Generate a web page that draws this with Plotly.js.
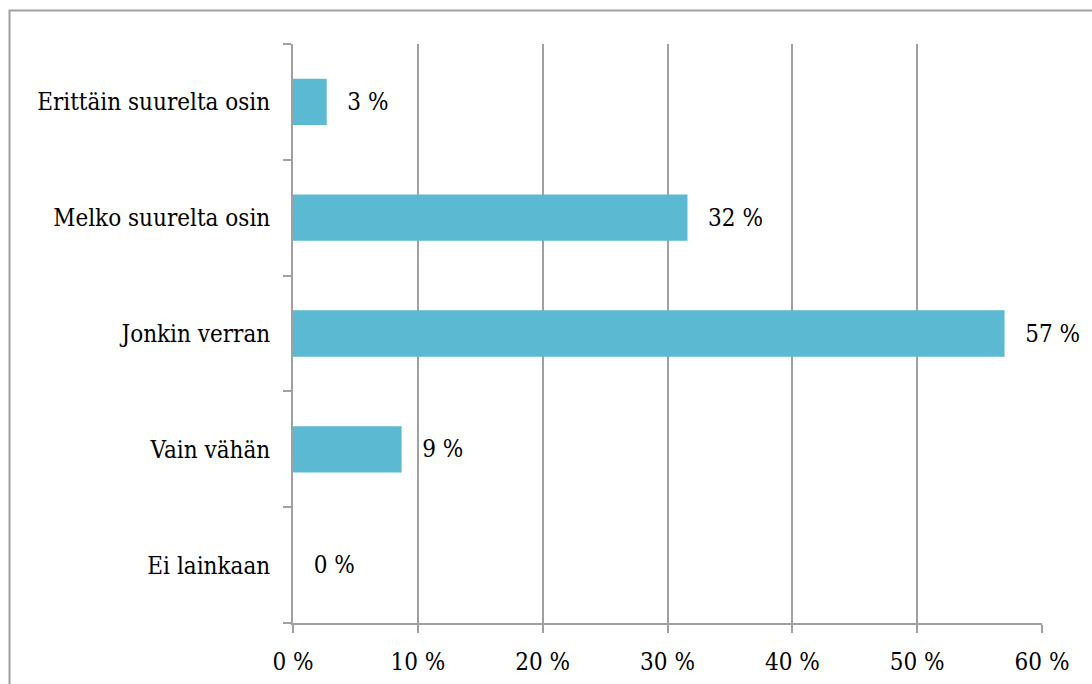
<!DOCTYPE html>
<html>
<head>
<meta charset="utf-8">
<script src="https://cdn.plot.ly/plotly-3.0.1.min.js"></script>
<style>html,body{margin:0;padding:0;background:#fff;}#chart{width:1092px;height:684px;}</style>
</head>
<body>
<div id="chart"></div>
<script>
const categories = ["Ei lainkaan", "Vain vähän", "Jonkin verran", "Melko suurelta osin", "Erittäin suurelta osin"];
const values = [0, 8.7, 57.0, 31.6, 2.7];
const tickValues = [0, 10, 20, 30, 40, 50, 60];
const tickLabels = ["0 %", "10 %", "20 %", "30 %", "40 %", "50 %", "60 %"];

const font = {family: "DejaVu Serif Condensed", size: 24, color: "#000"};
const W = 1092, H = 684, L = 293, R = 50, T = 44, B = 61;
const pw = W - L - R, ph = H - T - B;

const trace = {
  type: "bar",
  orientation: "h",
  y: categories,
  x: values,
  marker: {color: "#5BB9D2"},
  width: 0.4,
  texttemplate: "\u2002 %{x:.0f} %",
  textposition: "outside",
  textfont: font,
  cliponaxis: false,
  hoverinfo: "none"
};

const layout = {
  width: W, height: H,
  margin: {l: L, r: R, t: T, b: B, pad: 0},
  paper_bgcolor: "#fff",
  plot_bgcolor: "#fff",
  font: font,
  showlegend: false,
  xaxis: {
    range: [0, 60],
    tickvals: tickValues,
    ticktext: tickLabels,
    showgrid: true,
    gridcolor: "#A0A0A0",
    gridwidth: 2,
    zeroline: false,
    showline: true,
    linecolor: "#A0A0A0",
    linewidth: 2,
    ticks: "outside",
    ticklen: 8,
    tickwidth: 2,
    tickcolor: "#A0A0A0",
    tickfont: font,
    ticklabelstandoff: 8,
    fixedrange: true
  },
  yaxis: {
    type: "category",
    categoryorder: "array",
    categoryarray: categories,
    showgrid: false,
    zeroline: false,
    showline: true,
    linecolor: "#A0A0A0",
    linewidth: 2,
    ticks: "outside",
    tickson: "boundaries",
    ticklen: 8,
    tickwidth: 2,
    tickcolor: "#A0A0A0",
    tickfont: font,
    ticklabelstandoff: 16,
    fixedrange: true
  },
  shapes: [{
    type: "rect", xref: "paper", yref: "paper", layer: "below",
    x0: (9.5 - L) / pw, x1: (W + 20 - L) / pw,
    y0: (T + ph - (H + 20)) / ph, y1: (T + ph - 10.5) / ph,
    line: {color: "#A0A0A0", width: 2}, fillcolor: "rgba(0,0,0,0)"
  }]
};

Plotly.newPlot("chart", [trace], layout, {displayModeBar: false, staticPlot: true});
</script>
</body>
</html>
